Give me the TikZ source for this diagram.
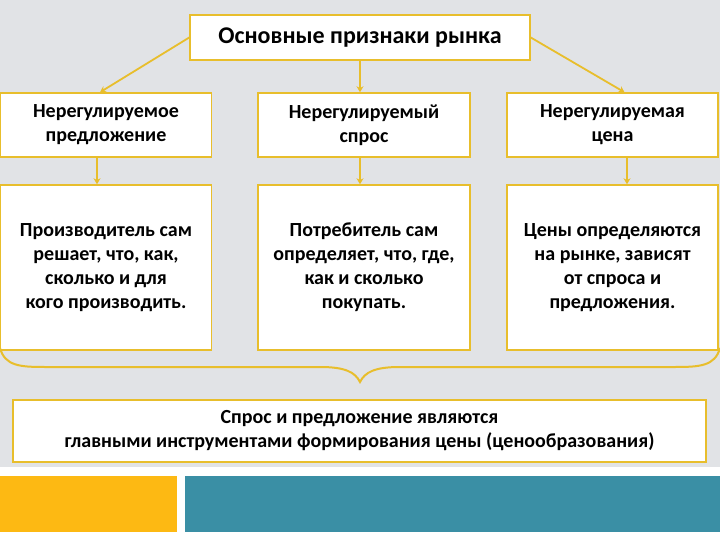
\documentclass[tikz,border=0pt]{standalone}
\usepackage{fontspec}
\setmainfont{Carlito}
\usetikzlibrary{arrows.meta}
\definecolor{gold}{HTML}{E8BE2C}
\definecolor{bgdot}{HTML}{E1E3E6}
\definecolor{orng}{HTML}{FDB913}
\definecolor{tealx}{HTML}{3A8FA5}
\begin{document}
\begin{tikzpicture}[x=1pt,y=-1pt,
  box/.style={draw=gold, line width=1.5pt, fill=white, inner sep=0pt, align=center,
    font=\bfseries\fontsize{20}{24}\selectfont},
  conn/.style={draw=gold, line width=1.8pt, -{Stealth[length=6pt,width=7pt]}}]
\useasboundingbox (0,0) rectangle (720,540);
\fill[bgdot] (0,0) rectangle (720,467);
\fill[white] (0,467) rectangle (720,540);
\fill[orng] (0,476) rectangle (177,532);
\fill[tealx] (185,476) rectangle (720,532);

\node[box, minimum width=340pt, minimum height=45pt, font=\bfseries\fontsize{24}{28}\selectfont] (top) at (360,37.5) {Основные признаки рынка};

\node[box, minimum width=211pt, minimum height=64pt] (b1) at (106,125) {Нерегулируемое\\предложение};
\node[box, minimum width=212pt, minimum height=64pt] (b2) at (364,125) {Нерегулируемый\\спрос};
\node[box, minimum width=211pt, minimum height=64pt] (b3) at (612.5,125) {Нерегулируемая\\цена};

\node[box, minimum width=211pt, minimum height=165pt] (c1) at (106,267.5) {Производитель сам\\решает, что, как,\\сколько и для\\кого производить.};
\node[box, minimum width=212pt, minimum height=165pt] (c2) at (364,267.5) {Потребитель сам\\определяет, что, где,\\как и сколько\\покупать.};
\node[box, minimum width=211pt, minimum height=165pt] (c3) at (612.5,267.5) {Цены определяются\\на рынке, зависят\\от спроса и\\предложения.};

\node[box, minimum width=693pt, minimum height=62pt] (bot) at (359.5,431) {Спрос и предложение являются\\главными инструментами формирования цены (ценообразования)};

\draw[conn] (top.west) -- ([xshift=-6pt]b1.north);
\draw[conn] (top.south) -- (top.south |- b2.north);
\draw[conn] (top.east) -- ([xshift=12pt]b3.north);

\draw[conn] ([xshift=-9pt]b1.south) -- ([xshift=-9pt]c1.north);
\draw[conn] (b2.south -| top.south) -- (c2.north -| top.south);
\draw[conn] ([xshift=14.5pt]b3.south) -- ([xshift=14.5pt]c3.north);

\draw[gold, line width=2pt] (0,348) .. controls (5,366) and (20,367) .. (45,367) -- (320,367)
  .. controls (345,367) and (355,372) .. (360,382)
  .. controls (365,372) and (375,367) .. (400,367) -- (675,367)
  .. controls (700,367) and (715,366) .. (720,348);
\end{tikzpicture}
\end{document}
